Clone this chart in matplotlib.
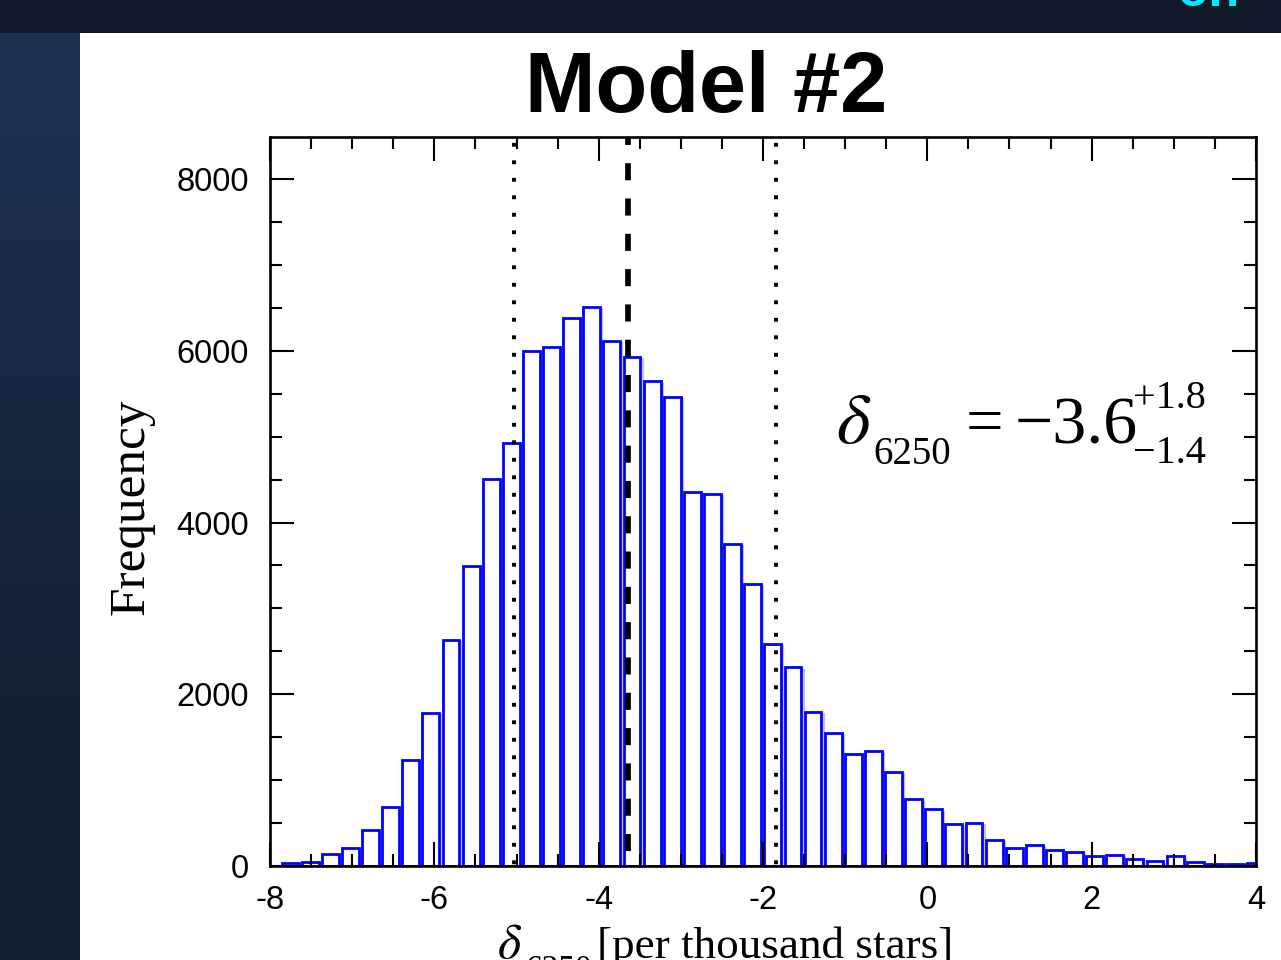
import matplotlib
matplotlib.use("Agg")
import matplotlib.pyplot as plt
import numpy as np
from matplotlib.colors import LinearSegmentedColormap
from matplotlib.patches import Rectangle
from matplotlib.ticker import MultipleLocator

plt.rcParams["axes.unicode_minus"] = False
plt.rcParams["mathtext.fontset"] = "stix"

# histogram of delta_6250 [per thousand stars]
first_bin = -7.7555   # centre of the first bin
bin_width = 0.2448
counts = [35, 50, 142, 205, 414, 690, 1234, 1782, 2637, 3497,
          4503, 4926, 5995, 6049, 6383, 6507, 6115, 5933, 5643, 5461,
          4361, 4334, 3746, 3283, 2583, 2312, 1790, 1546, 1301, 1345,
          1096, 779, 659, 490, 499, 303, 205, 249, 187, 160,
          111, 125, 80, 53, 111, 45, 27, 22, 36]

median = -3.645
lower = -5.03
upper = -1.845

x_ticks = [-8, -6, -4, -2, 0, 2, 4]
y_ticks = [0, 2000, 4000, 6000, 8000]

W, H = 1281, 960
fig = plt.figure(figsize=(W / 100, H / 100), dpi=100)


def px(x, y):
    # pixel position (from top-left) -> figure fraction
    return x / W, 1 - y / H


# slide background
bg = fig.add_axes([0, 0, 1, 1], zorder=-10)
bg.axis("off")
cmap = LinearSegmentedColormap.from_list("bg", ["#1f3253", "#17243d", "#121b2e"])
bg.imshow(np.linspace(0, 1, 256)[:, None], cmap=cmap, aspect="auto", extent=[0, 1, 0, 1])
fig.add_artist(Rectangle((0, 1 - 33 / H), 1, 33 / H, transform=fig.transFigure,
                         facecolor="#121928", edgecolor="none", zorder=-5))
fig.add_artist(Rectangle((80 / W, 0), 1 - 80 / W, 1 - 33 / H, transform=fig.transFigure,
                         facecolor="white", edgecolor="none", zorder=-4))
fig.text(*px(1178, 6), "on", color="#00e8ff", fontsize=36, fontweight="bold",
         family="Liberation Sans", va="baseline", ha="left")

ax = fig.add_axes([270 / W, 94 / H, 986 / W, 729 / H])
ymax = 8490

centres = first_bin + bin_width * np.arange(len(counts))
bar_w = 0.205
# light grey shadow edge, then the blue outlined bars
ax.bar(centres + 0.026, counts, width=bar_w, bottom=-25, facecolor="none",
       edgecolor="#c4c4c4", linewidth=1.6, zorder=0.8)
ax.bar(centres, counts, width=bar_w, facecolor="white", edgecolor="#0000ff",
       linewidth=2.0, zorder=1)

ax.plot([median, median], [ymax, 0], color="black", linewidth=4.1,
        linestyle=(14, (3.0, 3.2)), zorder=3)
for v in (lower, upper):
    ax.plot([v, v], [ymax, 0], color="black", linewidth=2.8,
            linestyle=(3, (1, 3.5)), zorder=3)

ax.set_xlim(-8, 4)
ax.set_ylim(0, ymax)
ax.set_xticks(x_ticks)
ax.set_yticks(y_ticks)
ax.xaxis.set_minor_locator(MultipleLocator(0.5))
ax.yaxis.set_minor_locator(MultipleLocator(500))
ax.tick_params(which="both", direction="in", top=True, right=True, width=1.5)
ax.tick_params(which="major", length=17.5, labelsize=23.5)
ax.tick_params(which="minor", length=8.6)
ax.tick_params(axis="y", pad=15)
ax.tick_params(axis="x", pad=14)
for lab in ax.get_xticklabels() + ax.get_yticklabels():
    lab.set_family("Liberation Sans")
for sp in ax.spines.values():
    sp.set_linewidth(1.9)

fig.text(*px(706, 112), "Model #2", fontsize=61, fontweight="bold",
         family="Liberation Sans", ha="center", va="baseline")
fig.text(*px(131, 507), "Frequency", fontsize=37, family="Liberation Serif",
         rotation=90, ha="center", va="center")

# annotation  delta_6250 = -3.6 (+1.8 / -1.4)
serif = "Liberation Serif"
fig.text(*px(836, 443), r"$\delta$", fontsize=52, ha="left", va="baseline")
fig.text(*px(873, 464), "6250", fontsize=28, family=serif, ha="left", va="baseline")
fig.text(*px(984, 443), "=", fontsize=48, family=serif, ha="center", va="baseline")
fig.text(*px(1015, 443), "\u22123.6", fontsize=49, family=serif, ha="left", va="baseline")
fig.text(*px(1133, 408), "+1.8", fontsize=29, family=serif, ha="left", va="baseline")
fig.text(*px(1133, 463), "\u22121.4", fontsize=29, family=serif, ha="left", va="baseline")

# x axis label, cut by the bottom edge as in the slide
fig.text(*px(497, 958), r"$\delta$", fontsize=36, ha="left", va="baseline")
fig.text(*px(526, 978), "6250", fontsize=24, family=serif, ha="left", va="baseline")
fig.text(*px(597, 958), "[per thousand stars]", fontsize=32.5, family=serif,
         ha="left", va="baseline")

fig.savefig("out.png", dpi=100)
